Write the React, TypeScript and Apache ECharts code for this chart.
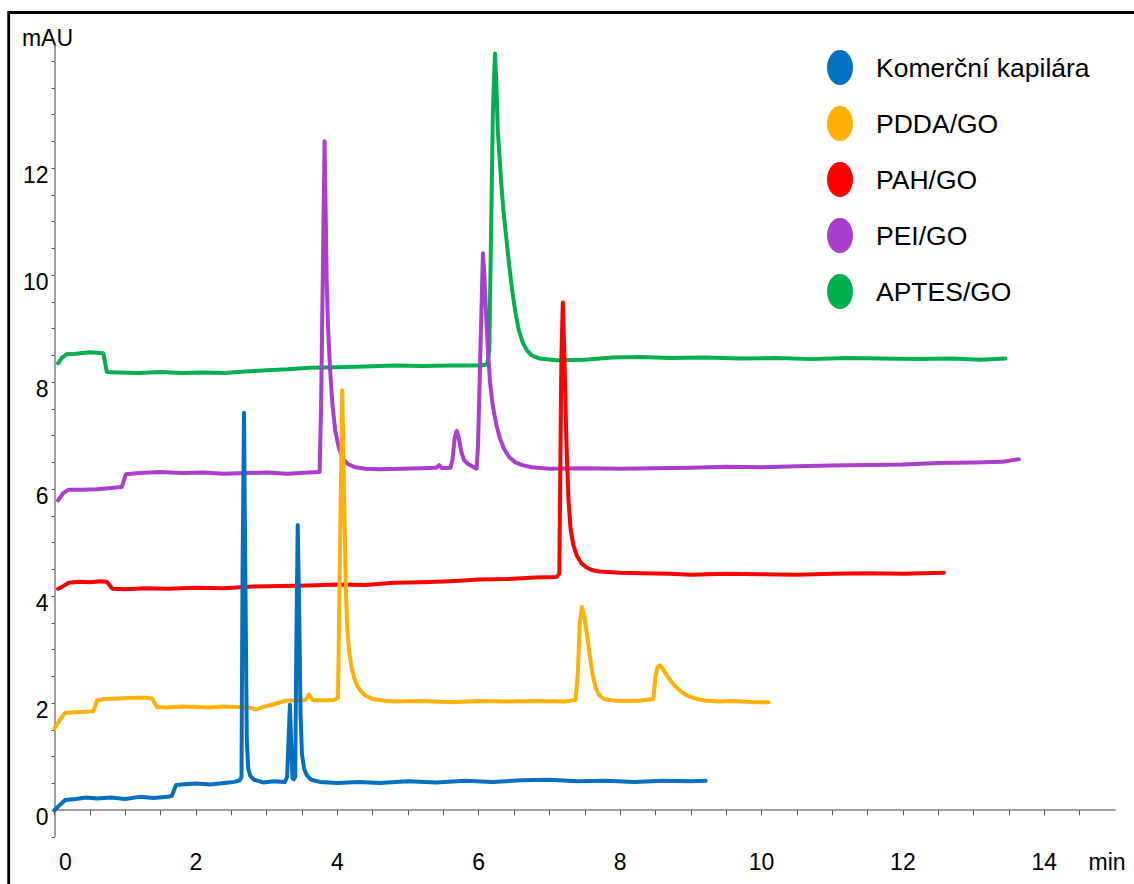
import React, { useEffect, useRef } from "react";
import * as echarts from "echarts";

const seriesNames = ["Komerční kapilára", "PDDA/GO", "PAH/GO", "PEI/GO", "APTES/GO"];
const seriesColors = ["#0070C0", "#FFB000", "#FF0000", "#A93ECF", "#00B050"];

const xTickLabels = [0, 2, 4, 6, 8, 10, 12, 14];
const yTickLabels = [0, 2, 4, 6, 8, 10, 12];

const komercni: number[][] = [
  [0.0, 0.0], [0.06, 0.08], [0.15, 0.19], [0.3, 0.21], [0.45, 0.24], [0.6, 0.22], [0.8, 0.24],
  [1.0, 0.21], [1.2, 0.25], [1.4, 0.23], [1.6, 0.25], [1.66, 0.27], [1.72, 0.47], [1.8, 0.48],
  [2.0, 0.5], [2.2, 0.48], [2.4, 0.51], [2.55, 0.53], [2.62, 0.56], [2.645, 0.62], [2.66, 4.5],
  [2.68, 7.43], [2.7, 4.3], [2.72, 1.3], [2.74, 0.78], [2.77, 0.64], [2.82, 0.57], [2.95, 0.52],
  [3.1, 0.54], [3.26, 0.53], [3.29, 0.62], [3.33, 1.97], [3.365, 0.6], [3.385, 0.58],
  [3.395, 0.97], [3.405, 0.62], [3.42, 3.0], [3.44, 5.33], [3.46, 3.8], [3.48, 1.8], [3.5, 1.05],
  [3.53, 0.78], [3.57, 0.65], [3.63, 0.57], [3.75, 0.53], [4.0, 0.51], [4.3, 0.53], [4.6, 0.51],
  [5.0, 0.54], [5.4, 0.52], [5.8, 0.55], [6.2, 0.53], [6.6, 0.56], [7.0, 0.57], [7.4, 0.54],
  [7.8, 0.55], [8.2, 0.53], [8.6, 0.55], [9.0, 0.54], [9.21, 0.55],
];

const pddaGo: number[][] = [
  [0.0, 1.53], [0.08, 1.7], [0.15, 1.82], [0.3, 1.83], [0.45, 1.84], [0.55, 1.85], [0.6, 2.05],
  [0.7, 2.08], [0.9, 2.09], [1.1, 2.1], [1.3, 2.1], [1.38, 2.09], [1.45, 1.93], [1.6, 1.92],
  [1.8, 1.94], [2.0, 1.93], [2.2, 1.92], [2.4, 1.94], [2.6, 1.93], [2.75, 1.92], [2.85, 1.88],
  [2.95, 1.93], [3.1, 1.98], [3.28, 2.05], [3.45, 2.05], [3.55, 2.06], [3.6, 2.16], [3.65, 2.06],
  [3.8, 2.05], [3.95, 2.06], [4.01, 2.1], [4.07, 7.85], [4.1, 5.6], [4.12, 4.2], [4.14, 3.4],
  [4.17, 2.95], [4.2, 2.68], [4.24, 2.47], [4.28, 2.33], [4.33, 2.23], [4.4, 2.14], [4.5, 2.08],
  [4.65, 2.05], [4.8, 2.03], [5.2, 2.04], [5.6, 2.02], [6.0, 2.04], [6.4, 2.03], [6.8, 2.04],
  [7.2, 2.03], [7.37, 2.06], [7.4, 2.5], [7.43, 3.5], [7.46, 3.8], [7.49, 3.65], [7.53, 3.3],
  [7.57, 2.9], [7.61, 2.55], [7.65, 2.3], [7.7, 2.16], [7.77, 2.08], [7.9, 2.05], [8.1, 2.04],
  [8.3, 2.05], [8.47, 2.08], [8.5, 2.5], [8.53, 2.68], [8.56, 2.71], [8.6, 2.65], [8.66, 2.52],
  [8.72, 2.41], [8.8, 2.29], [8.88, 2.2], [8.97, 2.13], [9.08, 2.08], [9.2, 2.05], [9.4, 2.03],
  [9.6, 2.04], [9.9, 2.02], [10.1, 2.02],
];

const pahGo: number[][] = [
  [0.05, 4.14], [0.1, 4.17], [0.2, 4.25], [0.35, 4.27], [0.5, 4.26], [0.65, 4.28], [0.74, 4.27],
  [0.82, 4.14], [1.0, 4.13], [1.3, 4.15], [1.6, 4.14], [2.0, 4.16], [2.4, 4.15], [2.8, 4.18],
  [3.2, 4.19], [3.6, 4.2], [4.0, 4.22], [4.4, 4.21], [4.8, 4.25], [5.2, 4.26], [5.6, 4.28],
  [6.0, 4.31], [6.4, 4.32], [6.8, 4.35], [7.1, 4.36], [7.14, 4.42], [7.17, 8.5], [7.19, 9.49],
  [7.21, 8.6], [7.24, 6.9], [7.27, 5.8], [7.3, 5.25], [7.34, 4.95], [7.39, 4.75], [7.45, 4.62],
  [7.52, 4.54], [7.6, 4.49], [7.7, 4.46], [8.0, 4.44], [8.3, 4.43], [8.7, 4.42], [9.0, 4.4],
  [9.5, 4.42], [10.0, 4.41], [10.5, 4.4], [11.0, 4.42], [11.5, 4.43], [12.0, 4.42], [12.58, 4.44],
];

const peiGo: number[][] = [
  [0.05, 5.79], [0.12, 5.92], [0.2, 5.99], [0.4, 5.99], [0.6, 6.0], [0.8, 6.02], [0.95, 6.04],
  [1.01, 6.28], [1.2, 6.3], [1.5, 6.32], [1.8, 6.3], [2.1, 6.31], [2.4, 6.29], [2.7, 6.3],
  [3.0, 6.31], [3.3, 6.29], [3.6, 6.31], [3.75, 6.32], [3.77, 7.5], [3.82, 12.5], [3.835, 11.2],
  [3.85, 9.9], [3.87, 9.0], [3.9, 8.2], [3.93, 7.6], [3.97, 7.1], [4.02, 6.78], [4.08, 6.57],
  [4.15, 6.47], [4.25, 6.41], [4.4, 6.38], [4.6, 6.37], [4.9, 6.38], [5.2, 6.39], [5.4, 6.4],
  [5.44, 6.45], [5.48, 6.39], [5.6, 6.4], [5.63, 6.55], [5.66, 6.95], [5.69, 7.09], [5.72, 6.95],
  [5.75, 6.72], [5.79, 6.55], [5.85, 6.47], [5.92, 6.42], [5.97, 6.38], [5.99, 6.8], [6.06, 10.41],
  [6.08, 10.0], [6.1, 9.4], [6.13, 8.6], [6.16, 8.0], [6.2, 7.55], [6.25, 7.2], [6.3, 6.95],
  [6.36, 6.75], [6.43, 6.6], [6.52, 6.5], [6.62, 6.45], [6.75, 6.41], [7.0, 6.38], [7.5, 6.39],
  [8.0, 6.38], [8.5, 6.39], [9.0, 6.4], [9.5, 6.42], [10.0, 6.41], [10.5, 6.43], [11.0, 6.44],
  [11.5, 6.45], [12.0, 6.46], [12.5, 6.49], [13.0, 6.5], [13.4, 6.51], [13.64, 6.56],
];

const aptesGo: number[][] = [
  [0.05, 8.35], [0.1, 8.45], [0.17, 8.52], [0.3, 8.53], [0.5, 8.56], [0.6, 8.55], [0.69, 8.54],
  [0.74, 8.19], [0.9, 8.18], [1.2, 8.17], [1.5, 8.19], [1.8, 8.17], [2.1, 8.18], [2.4, 8.17],
  [2.7, 8.2], [3.0, 8.22], [3.3, 8.24], [3.6, 8.27], [4.0, 8.28], [4.4, 8.29], [4.8, 8.31],
  [5.2, 8.3], [5.6, 8.31], [6.0, 8.31], [6.12, 8.33], [6.15, 8.6], [6.2, 13.0], [6.23, 14.14],
  [6.25, 13.6], [6.27, 12.7], [6.3, 12.1], [6.32, 11.7], [6.35, 11.2], [6.39, 10.7], [6.43, 10.2],
  [6.47, 9.75], [6.52, 9.3], [6.57, 8.96], [6.62, 8.75], [6.68, 8.6], [6.75, 8.5], [6.86, 8.44],
  [7.1, 8.41], [7.5, 8.42], [7.9, 8.46], [8.3, 8.47], [8.7, 8.45], [9.2, 8.46], [9.7, 8.44],
  [10.2, 8.45], [10.7, 8.43], [11.2, 8.45], [11.7, 8.44], [12.2, 8.43], [12.7, 8.44],
  [13.1, 8.42], [13.45, 8.44],
];

const seriesData = [komercni, pddaGo, pahGo, peiGo, aptesGo];
// drawing order: last drawn on top
const drawOrder = [4, 3, 2, 1, 0];

const FONT = "'Liberation Sans', Arial, sans-serif";
const FS = 23;
const ELLIPSE =
  "path://M13 0C20.2 0 26 7.8 26 17.5C26 27.2 20.2 35 13 35C5.8 35 0 27.2 0 17.5C0 7.8 5.8 0 13 0Z";

export default function App() {
  const ref = useRef<HTMLDivElement>(null);

  useEffect(() => {
    if (!ref.current) return;
    const chart = echarts.init(ref.current, null, { renderer: "svg" });
    const isMult = (v: number, arr: number[]) => arr.some((a) => Math.abs(a - v) < 1e-9);

    chart.setOption({
      animation: false,
      backgroundColor: "#ffffff",
      textStyle: { fontFamily: FONT },
      grid: { left: 54.5, right: 19, top: 45, bottom: 47, containLabel: false },
      legend: {
        orient: "vertical",
        left: 822,
        top: 45,
        itemWidth: 26,
        itemHeight: 35,
        itemGap: 21,
        icon: ELLIPSE,
        selectedMode: false,
        data: seriesNames,
        itemStyle: { borderWidth: 0 },
        textStyle: { fontSize: 26.5, color: "#000", fontFamily: FONT, padding: [0, 0, 0, 18] },
      },
      xAxis: {
        type: "value",
        min: 0,
        max: 15,
        interval: 0.5,
        splitLine: { show: false },
        axisLine: { lineStyle: { color: "#808080", width: 1.5 } },
        axisTick: { length: 5, lineStyle: { color: "#555", width: 1 } },
        axisLabel: {
          fontSize: FS,
          color: "#000",
          fontFamily: FONT,
          margin: 13,
          showMaxLabel: false,
          formatter: (v: number) => {
            if (Math.abs(v) < 1e-9) return "{z|0}";
            return isMult(v, xTickLabels) ? String(v) : "";
          },
          rich: {
            z: { fontSize: FS, color: "#000", fontFamily: FONT, padding: [0, 0, 0, 22] },
          },
        },
      },
      yAxis: {
        type: "value",
        min: -0.5,
        max: 14.3,
        interval: 0.5,
        name: "mAU",
        nameLocation: "end",
        nameGap: -4,
        nameTextStyle: { fontSize: FS, color: "#000", fontFamily: FONT, padding: [0, 14, 0, 0] },
        splitLine: { show: false },
        axisLine: { show: true, lineStyle: { color: "#808080", width: 1.5 } },
        axisTick: { show: true, length: 3, lineStyle: { color: "#555", width: 1 } },
        axisLabel: {
          fontSize: FS,
          color: "#000",
          fontFamily: FONT,
          margin: 6,
          showMaxLabel: false,
          formatter: (v: number) => (isMult(v, yTickLabels) ? "{d|" + v + "}" : ""),
          rich: {
            d: { fontSize: FS, color: "#000", fontFamily: FONT, padding: [13, 0, 0, 0] },
          },
        },
      },
      graphic: [
        {
          type: "rect",
          shape: { x: 8.7, y: 12.5, width: 1300, height: 1000 },
          style: { fill: "none", stroke: "#000", lineWidth: 2.8 },
          silent: true,
          z: 100,
        },
        {
          type: "text",
          x: 1107,
          y: 862,
          silent: true,
          style: {
            text: "min",
            fill: "#000",
            font: FS + "px 'Liberation Sans', Arial, sans-serif",
            align: "center",
            verticalAlign: "middle",
          },
        },
      ],
      series: drawOrder.map((i) => ({
        name: seriesNames[i],
        type: "line",
        data: seriesData[i],
        showSymbol: false,
        symbol: "none",
        color: seriesColors[i],
        lineStyle: { color: seriesColors[i], width: 4, join: "round", cap: "round" },
        emphasis: { disabled: true },
      })),
    });

    return () => chart.dispose();
  }, []);

  return (
    <div
      ref={ref}
      style={{ position: "fixed", left: 0, top: 0, width: 1134, height: 884 }}
    />
  );
}
